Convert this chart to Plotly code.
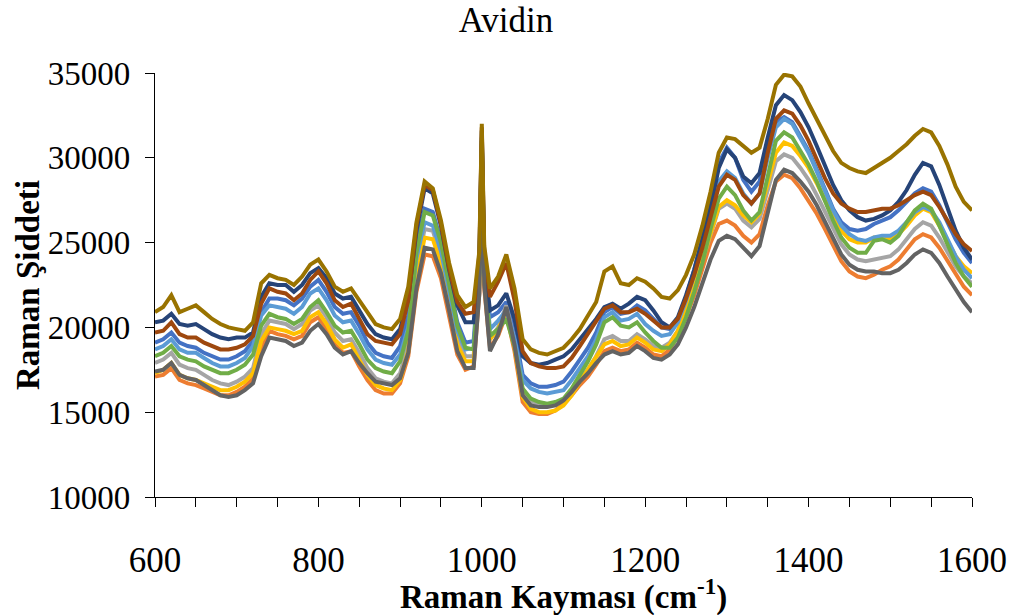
import plotly.graph_objects as go

# Raman shift grid (cm-1); extra points around the sharp 1000 cm-1 band
shift = [600, 610, 620, 630, 640, 650, 660, 670, 680, 690,
         700, 710, 720, 730, 740, 750, 760, 770, 780, 790,
         800, 810, 820, 830, 840, 850, 860, 870, 880, 890,
         900, 910, 920, 930, 940, 950, 960, 970, 980, 990,
         997, 1000, 1003,
         1010, 1020, 1030, 1040, 1050, 1060, 1070, 1080, 1090,
         1100, 1110, 1120, 1130, 1140, 1150, 1160, 1170, 1180, 1190,
         1200, 1210, 1220, 1230, 1240, 1250, 1260, 1270, 1280, 1290,
         1300, 1310, 1320, 1330, 1340, 1350, 1360, 1370, 1380, 1390,
         1400, 1410, 1420, 1430, 1440, 1450, 1460, 1470, 1480, 1490,
         1500, 1510, 1520, 1530, 1540, 1550, 1560, 1570, 1580, 1590,
         1600]

series1 = [19100, 19300, 19700, 19100, 18900, 18800, 18500, 18300, 18100, 18100,
           18300, 18600, 19200, 20900, 21700, 21700, 21600, 21300, 21700, 22400,
           22800, 22100, 21200, 20800, 20900, 20100, 19100, 18500, 18300, 18200,
           18900, 20700, 24900, 27000, 26800, 25100, 22800, 20300, 19100, 19200,
           23500, 31200, 23800,
           20600, 20900, 21500, 19800, 17200, 16700, 16500, 16500, 16600,
           16800, 17400, 18100, 18800, 19700, 20900, 21200, 20800, 20900, 21300,
           21000, 20500, 20000, 19900, 20500, 21800, 23400, 25300, 27400, 29700,
           30600, 30000, 28700, 28000, 28600, 30700, 32100, 32400, 32100, 31300,
           30400, 29300, 28100, 27000, 26200, 25800, 25700, 25800, 26100, 26300,
           26500, 26900, 27400, 27900, 28200, 28000, 27200, 26200, 25200, 24400,
           23800]

series2 = [17100, 17200, 17600, 16900, 16700, 16600, 16400, 16200, 16000, 16000,
           16200, 16500, 17000, 18800, 19800, 19600, 19500, 19300, 19500, 20300,
           20600, 19900, 19000, 18500, 18600, 17700, 16900, 16300, 16100, 16100,
           16700, 18300, 22100, 24300, 24200, 22900, 20700, 18400, 17500, 17700,
           22000, 30000, 22300,
           18800, 19500, 20800, 18600, 15600, 15000, 14900, 14900, 15100,
           15500, 16000, 16600, 17100, 17800, 18600, 18800, 18600, 18700, 19100,
           18800, 18400, 18300, 18700, 19500, 20600, 21900, 23400, 25000, 26100,
           26300, 26000, 25400, 25000, 25500, 27200, 28600, 29000, 28800, 28200,
           27500, 26700, 25800, 24800, 23900, 23300, 23000, 22900, 23100, 23400,
           23600, 24000, 24600, 25200, 25500, 25300, 24700, 23900, 23100, 22400,
           21900]

series3 = [17900, 18100, 18500, 17800, 17600, 17500, 17200, 16900, 16700, 16600,
           16800, 17100, 17600, 19600, 20400, 20300, 20200, 19900, 20200, 21000,
           21300, 20600, 19700, 19200, 19300, 18500, 17600, 17000, 16800, 16700,
           17300, 19000, 23500, 25800, 25700, 24200, 21900, 19400, 18300, 18300,
           22800, 30800, 23000,
           19300, 20000, 21300, 19200, 16300, 15600, 15400, 15400, 15500,
           15700, 16200, 16900, 17500, 18300, 19300, 19500, 19200, 19200, 19600,
           19300, 18900, 18800, 19100, 19800, 21000, 22400, 24000, 25600, 27000,
           27300, 27000, 26300, 25900, 26400, 28200, 29800, 30200, 30000, 29400,
           28700, 27800, 26800, 25800, 24900, 24300, 24000, 23900, 24000, 24100,
           24200, 24600, 25200, 25800, 26200, 26000, 25300, 24400, 23600, 23000,
           22600]

series4 = [17300, 17500, 17900, 17200, 17000, 16900, 16700, 16500, 16300, 16300,
           16500, 16800, 17300, 19200, 20000, 19900, 19800, 19600, 19800, 20600,
           20900, 20200, 19300, 18800, 19000, 18100, 17200, 16600, 16400, 16300,
           16900, 18600, 22900, 25300, 25200, 23800, 21500, 19000, 18000, 18000,
           22500, 30500, 22800,
           19300, 19900, 21000, 18900, 15900, 15200, 15000, 15000, 15100,
           15400, 16000, 16800, 17500, 18300, 19000, 19200, 18900, 19000, 19400,
           19100, 18700, 18600, 19000, 19800, 21000, 22400, 24000, 25700, 27100,
           27500, 27200, 26600, 26200, 26700, 28500, 30300, 30900, 30700, 30100,
           29400, 28500, 27500, 26500, 25700, 25200, 25000, 25000, 25300, 25300,
           25200, 25500, 26000, 26600, 27000, 26800, 26000, 25100, 24200, 23600,
           23200]

series5 = [18700, 18900, 19300, 18700, 18500, 18500, 18200, 17900, 17700, 17700,
           17900, 18200, 18900, 20700, 21300, 21200, 21100, 20800, 21200, 22000,
           22300, 21600, 20700, 20300, 20400, 19600, 18700, 18100, 17900, 17800,
           18400, 20000, 24100, 26200, 26000, 24500, 22200, 19800, 18700, 18800,
           23200, 31000, 23500,
           19900, 20400, 21000, 19300, 16900, 16400, 16200, 16100, 16200,
           16300, 16900, 17600, 18300, 19300, 20600, 20900, 20400, 20500, 20800,
           20200, 19800, 19500, 19600, 20300, 21600, 23100, 24900, 26800, 28600,
           29200, 28800, 27900, 27300, 27900, 30000, 31800, 32300, 32000, 31200,
           30300, 29200, 28000, 26900, 26000, 25500, 25200, 25100, 25300, 25400,
           25400, 25700, 26200, 26800, 27100, 26900, 26200, 25200, 24200, 23400,
           22900]

series6 = [18300, 18500, 18900, 18300, 18100, 18000, 17700, 17500, 17300, 17300,
           17500, 17800, 18400, 20100, 20800, 20600, 20500, 20200, 20500, 21200,
           21600, 20900, 20100, 19700, 19800, 19000, 18100, 17600, 17400, 17300,
           18000, 19800, 24400, 26800, 26600, 25000, 22600, 20100, 18800, 18700,
           23200, 31000, 23400,
           19500, 19900, 20500, 18900, 16400, 15800, 15600, 15500, 15600,
           15800, 16400, 17200, 18000, 19000, 20300, 20600, 20100, 20000, 20300,
           19700, 19200, 18800, 18800, 19400, 20600, 22100, 23800, 25800, 27600,
           28300, 27800, 26900, 26300, 26800, 29000, 31000, 31500, 31200, 30400,
           29600, 28600, 27400, 26300, 25300, 24700, 24400, 24400, 25100, 25200,
           25000, 25400, 26200, 26900, 27300, 27000, 26000, 24900, 23800, 23000,
           22400]

series7 = [20300, 20400, 20800, 20200, 20100, 20200, 19900, 19600, 19400, 19300,
           19400, 19400, 19700, 21800, 22600, 22500, 22500, 22100, 22500, 23200,
           23500, 22900, 22000, 21700, 21800, 21000, 20200, 19600, 19400, 19300,
           19900, 21700, 25700, 28200, 27900, 26000, 23400, 21300, 20300, 20300,
           24000, 31600, 24000,
           21000, 21300, 22000, 20500, 18300, 17900, 17800, 17900, 18100,
           18300, 18700, 19300, 19900, 20500, 21200, 21400, 21100, 21400, 21800,
           21600, 21000, 20300, 20000, 20600, 21900, 23400, 25200, 27100, 29400,
           30500, 30000, 28900, 28500, 29100, 31200, 33100, 33700, 33400, 32700,
           31800, 30700, 29500, 28400, 27500, 26900, 26500, 26300, 26400, 26600,
           26900, 27400, 28100, 29000, 29700, 29500, 28400, 27000, 25700, 24700,
           24000]

series8 = [19700, 19800, 20300, 19600, 19400, 19400, 19100, 18900, 18700, 18700,
           18800, 19000, 19500, 21400, 22300, 22100, 22000, 21600, 22000, 22800,
           23300, 22600, 21600, 21200, 21400, 20500, 19600, 19200, 19100, 19000,
           19600, 21600, 26000, 28400, 28100, 26100, 23500, 21500, 20800, 20900,
           24300, 31800, 24400,
           21800, 22700, 23800, 21600, 18600, 17900, 17700, 17600, 17600,
           17700, 18200, 18900, 19600, 20300, 21100, 21300, 20900, 20900, 21100,
           20800, 20400, 20000, 20000, 20500, 21700, 23100, 24700, 26500, 28300,
           29000, 28700, 27800, 27300, 27900, 30300, 32300, 32800, 32600, 31900,
           31000, 29900, 28800, 27900, 27300, 27000, 26800, 26800, 26900, 27000,
           27000, 27200, 27500, 27800, 28000, 27800, 27100, 26300, 25500, 24900,
           24500]

series9 = [17400, 17500, 17900, 17200, 17000, 16900, 16600, 16300, 16000, 15900,
           16000, 16300, 16700, 18300, 19400, 19300, 19200, 18900, 19100, 19800,
           20200, 19600, 18800, 18400, 18600, 17900, 17300, 16800, 16700, 16600,
           17000, 18500, 22300, 24700, 24600, 23200, 21000, 18600, 17600, 17600,
           22000, 30500, 22500,
           18600, 19600, 21200, 19000, 16000, 15400, 15300, 15300, 15400,
           15700, 16200, 16800, 17300, 17900, 18400, 18600, 18400, 18500, 18900,
           18600, 18200, 18100, 18400, 19000, 20000, 21200, 22600, 24000, 25100,
           25400, 25200, 24700, 24200, 24800, 26700, 28700, 29300, 29100, 28600,
           28000, 27200, 26200, 25200, 24300, 23700, 23400, 23300, 23300, 23200,
           23200, 23400, 23800, 24300, 24600, 24400, 23800, 23000, 22200, 21500,
           20900]

series10 = [20900, 21200, 21900, 20900, 21100, 21300, 20900, 20500, 20200, 20000,
            19900, 19800, 20300, 22600, 23100, 22900, 22800, 22500, 23000, 23700,
            24000, 23300, 22400, 22100, 22300, 21600, 20800, 20200, 20000, 19900,
            20500, 22400, 26200, 28600, 28200, 26300, 23800, 21900, 21200, 21500,
            24500, 32000, 24800,
            22300, 23000, 24300, 22300, 19300, 18700, 18500, 18400, 18600,
            18800, 19300, 19900, 20700, 21500, 23300, 23600, 22600, 22500, 22900,
            22700, 22300, 21800, 21700, 22200, 23100, 24300, 26000, 28000, 30300,
            31200, 31100, 30700, 30300, 30600, 32300, 34300, 34900, 34800, 34200,
            33200, 32300, 31300, 30400, 29700, 29400, 29200, 29100, 29400, 29700,
            30000, 30400, 30800, 31300, 31700, 31500, 30700, 29600, 28300, 27400,
            26900]

series_names = ["Series1", "Series2", "Series3", "Series4", "Series5",
                "Series6", "Series7", "Series8", "Series9", "Series10"]
series_values = [series1, series2, series3, series4, series5,
                 series6, series7, series8, series9, series10]
colors = ["#4472C4", "#ED7D31", "#A5A5A5", "#FFC000", "#5B9BD5",
          "#70AD47", "#264478", "#9E480E", "#636363", "#997300"]

x_ticks = [600, 800, 1000, 1200, 1400, 1600]
y_ticks = [10000, 15000, 20000, 25000, 30000, 35000]

fig = go.Figure()
for name, vals, col in zip(series_names, series_values, colors):
    fig.add_trace(go.Scatter(x=shift, y=vals, mode="lines", name=name,
                             line=dict(color=col, width=4)))

serif = "Liberation Serif"

fig.update_layout(
    width=1012, height=615,
    margin=dict(l=155, r=40, t=73, b=118),
    paper_bgcolor="white", plot_bgcolor="white",
    showlegend=False,
    font=dict(family=serif, color="black"),
    title=dict(text="Avidin", x=0.5, xref="container", xanchor="center",
               y=1 - 20 / 615, yref="container", yanchor="middle",
               font=dict(family=serif, size=35, color="black")),
    annotations=[
        dict(text="<b>Raman Kayması (cm<sup>-1</sup>)</b>",
             xref="paper", yref="paper", x=0.5, y=0,
             xanchor="center", yanchor="bottom", yshift=-121,
             showarrow=False, font=dict(family=serif, size=33, color="black")),
        dict(text="<b>Raman Şiddeti</b>",
             xref="paper", yref="paper", x=0, y=0.5,
             xanchor="center", yanchor="middle", xshift=-127, textangle=-90,
             showarrow=False, font=dict(family=serif, size=33, color="black")),
    ],
)

fig.update_xaxes(
    range=[600, 1600], tickvals=x_ticks, ticktext=[str(v) for v in x_ticks],
    showgrid=False, zeroline=False, automargin=False,
    showline=True, linecolor="black", linewidth=1.3,
    ticks="outside", ticklen=9, tickwidth=1.3, tickcolor="black",
    minor=dict(dtick=50, tick0=600, ticks="outside", ticklen=9,
               tickwidth=1.3, tickcolor="black", showgrid=False),
    tickfont=dict(family=serif, size=35, color="black"),
    ticklabelstandoff=23,
)

fig.update_yaxes(
    range=[10000, 35000], tickvals=y_ticks, ticktext=[str(v) for v in y_ticks],
    showgrid=False, zeroline=False, automargin=False,
    showline=True, linecolor="black", linewidth=1.3,
    ticks="outside", ticklen=9, tickwidth=1.3, tickcolor="black",
    tickfont=dict(family=serif, size=33, color="black"),
    ticklabelstandoff=8,
)

fig.write_html("out.html")
